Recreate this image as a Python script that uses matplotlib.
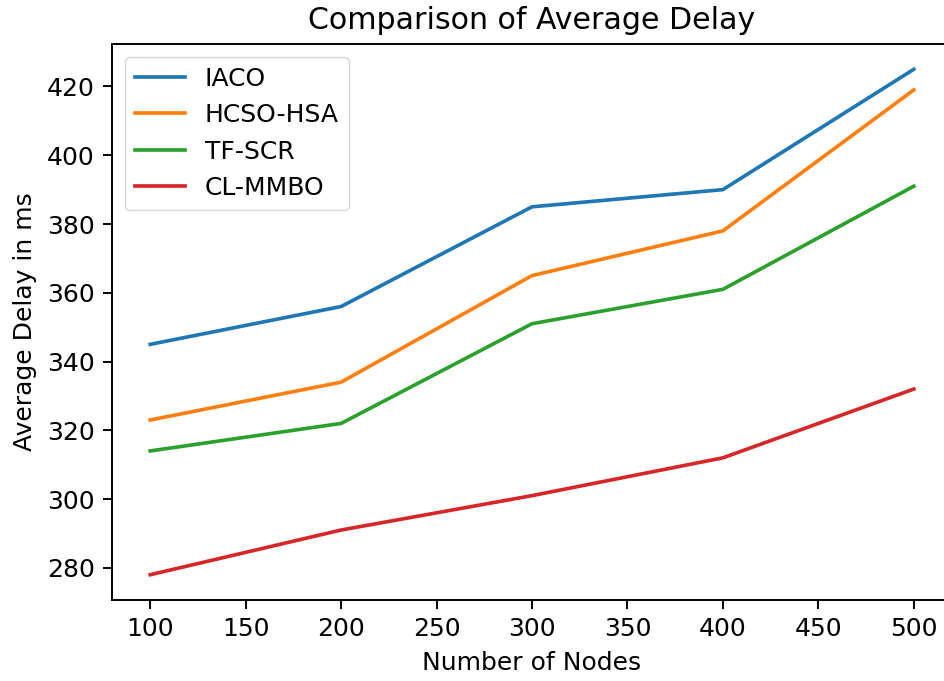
import matplotlib
matplotlib.use("Agg")
import matplotlib.pyplot as plt

nodes = [100, 200, 300, 400, 500]
iaco = [345, 356, 385, 390, 425]
hcso_hsa = [323, 334, 365, 378, 419]
tf_scr = [314, 322, 351, 361, 391]
cl_mmbo = [278, 291, 301, 312, 332]

s = 1.75
plt.rcParams.update({
    "font.size": 10.3 * s,
    "lines.linewidth": 1.5 * s,
    "axes.linewidth": 0.8 * s,
    "xtick.major.width": 0.8 * s,
    "ytick.major.width": 0.8 * s,
    "xtick.major.size": 3.5 * s,
    "ytick.major.size": 3.5 * s,
    "xtick.major.pad": 3.5 * s,
    "ytick.major.pad": 3.5 * s,
    "axes.titlepad": 6 * s,
    "axes.labelpad": 4 * s,
})

fig = plt.figure(figsize=(9.45, 6.81), dpi=100)
W, H = 945, 681
ax = fig.add_axes([112 / W, (H - 600) / H, (952 - 112) / W, (600 - 44) / H])

ax.plot(nodes, iaco, label="IACO")
ax.plot(nodes, hcso_hsa, label="HCSO-HSA")
ax.plot(nodes, tf_scr, label="TF-SCR")
ax.plot(nodes, cl_mmbo, label="CL-MMBO")

ax.set_title("Comparison of Average Delay")
ax.set_xlabel("Number of Nodes")
ax.set_ylabel("Average Delay in ms")
ax.legend(loc="upper left")

fig.savefig("out.png", dpi=100)
